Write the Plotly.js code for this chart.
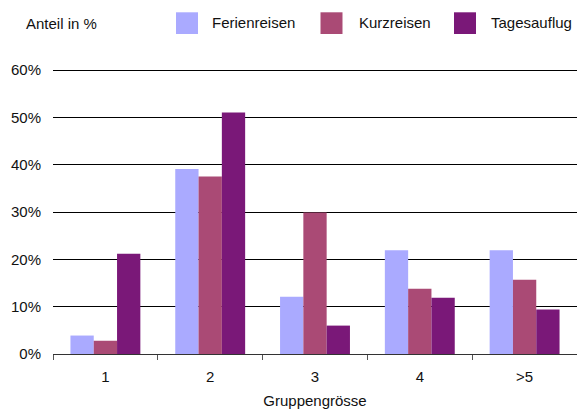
<!DOCTYPE html>
<html>
<head>
<meta charset="utf-8">
<script src="https://cdn.plot.ly/plotly-3.0.1.min.js"></script>
<style>html,body{margin:0;padding:0;background:#fff;}#chart{width:577px;height:409px;}</style>
</head>
<body>
<div id="chart"></div>
<script>
const categories = ['1', '2', '3', '4', '>5'];
const seriesNames = ['Ferienreisen', 'Kurzreisen', 'Tagesauflug'];
const ferienreisen = [3.9, 39.1, 12.1, 21.9, 21.9];
const kurzreisen = [2.8, 37.5, 29.9, 13.8, 15.7];
const tagesauflug = [21.2, 51.0, 6.0, 11.9, 9.4];
const colors = ['#AAAAFF', '#AA4A75', '#7A1878'];
const yTicks = [0, 10, 20, 30, 40, 50, 60];

const seriesValues = [ferienreisen, kurzreisen, tagesauflug];
const traces = seriesNames.map((name, i) => ({
  type: 'bar', name: name, x: categories, y: seriesValues[i],
  marker: {color: colors[i], line: {width: 0}}, showlegend: false, hoverinfo: 'none'
}));

// plot box in pixels
const W = 577, H = 409, mL = 53, mR = 0, mT = 67, mB = 55;
const pw = W - mL - mR, ph = H - mT - mB;
const pxPerUnit = (H - mB - 70) / 60; // 60% line sits at y=70
const yMax = ph / pxPerUnit;
const px = x => (x - mL) / pw;
const py = y => (H - mB - y) / ph;

const font = {family: '"Liberation Sans", Arial, Helvetica, sans-serif', size: 15, color: '#111'};

// custom legend layout (square left edge, text left edge)
const legendSquareX = [176, 320.5, 454];
const legendTextX = [210, 357, 489];
const shapes = [], annotations = [];
seriesNames.forEach((n, i) => {
  shapes.push({type: 'rect', xref: 'paper', yref: 'paper',
    x0: px(legendSquareX[i]), x1: px(legendSquareX[i] + 22),
    y0: py(34), y1: py(12.3), fillcolor: colors[i], line: {width: 0}});
  annotations.push({xref: 'paper', yref: 'paper', x: px(legendTextX[i]), y: py(23),
    xanchor: 'left', yanchor: 'middle', text: n, showarrow: false, font: font});
});
annotations.push({xref: 'paper', yref: 'paper', x: px(23.5), y: py(24),
  xanchor: 'left', yanchor: 'middle', text: 'Anteil in %', showarrow: false, font: font});

const layout = {
  width: W, height: H,
  margin: {l: mL, r: mR, t: mT, b: mB, pad: 0},
  paper_bgcolor: '#fff', plot_bgcolor: '#fff',
  font: font,
  barmode: 'group', bargap: 0.333, bargroupgap: 0,
  showlegend: false,
  xaxis: {
    type: 'category', showgrid: false, zeroline: false,
    showline: true, linecolor: '#333', linewidth: 1,
    ticks: 'outside', tickson: 'boundaries', ticklen: 5, tickcolor: '#555', tickwidth: 1,
    ticklabelstandoff: 9,
    tickfont: font,
    title: {text: 'Gruppengrösse', font: font, standoff: 15}
  },
  yaxis: {
    range: [0, yMax], tickvals: yTicks, ticktext: yTicks.map(v => v + '%'),
    showgrid: true, gridcolor: '#000', gridwidth: 1,
    zeroline: false, showline: false, ticks: '',
    ticklabelstandoff: 11,
    tickfont: font
  },
  shapes: shapes,
  annotations: annotations
};

Plotly.newPlot('chart', traces, layout, {staticPlot: true, displayModeBar: false});
</script>
</body>
</html>
